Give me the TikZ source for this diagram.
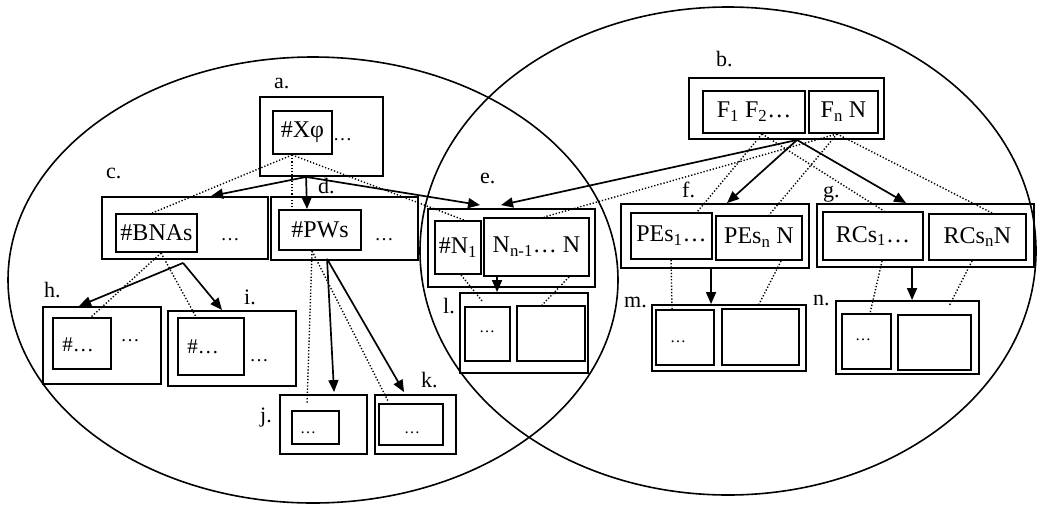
\documentclass[tikz,border=0pt]{standalone}
\usepackage{fontspec}
\setmainfont{Liberation Serif}
\usetikzlibrary{arrows.meta}
\begin{document}
\begin{tikzpicture}[x=1pt,y=-1pt,
  bx/.style={draw,line width=1.9pt,inner sep=0pt},
  txt/.style={font=\fontsize{24}{26}\selectfont},
  stxt/.style={font=\fontsize{21}{22}\selectfont,inner sep=0pt},
  dots/.style={font=\fontsize{19}{22}\selectfont,inner sep=0pt},
  sdots/.style={font=\fontsize{16}{18}\selectfont,inner sep=0pt},
  lbl/.style={font=\fontsize{22}{24}\selectfont,anchor=base west,inner sep=0pt},
  arr/.style={line width=1.7pt,-{Triangle[length=12pt,width=10pt]}},
  dot/.style={line width=1.4pt,dash pattern=on 1.3pt off 1.9pt},
  ell/.style={line width=1.6pt}]
\useasboundingbox (0,0) rectangle (1041,504);
% ellipses
\draw[ell] (313,280) ellipse [x radius=305pt, y radius=223pt];
\draw[ell] (728,251) ellipse [x radius=308pt, y radius=244pt];
% a
\node[bx,minimum width=123pt,minimum height=79pt] (a) at (321.5,136.5) {};
\node[bx,txt,minimum width=59pt,minimum height=43pt] (xphi) at (302.5,132.5) {\#Xφ};
\node[dots,anchor=west] (adots) at (333,140) {…};
\node[lbl] (la) at (274,88) {a.};
% c
\node[bx,minimum width=166pt,minimum height=62pt] (c) at (185,228) {};
\node[bx,txt,minimum width=81pt,minimum height=38pt] (bnas) at (156.5,233) {\#BNAs};
\node[dots] (cdots) at (230,240) {…};
\node[lbl] (lc) at (106,178) {c.};
% d
\node[bx,minimum width=147pt,minimum height=63pt] (d) at (344.5,228.5) {};
\node[bx,txt,minimum width=82pt,minimum height=40pt] (pws) at (320,230) {\#PWs};
\node[dots] (ddots) at (384,240) {…};
\node[lbl] (ld) at (318,193) {d.};
% e
\node[bx,minimum width=167pt,minimum height=78pt] (e) at (511.5,248) {};
\node[bx,txt,minimum width=46pt,minimum height=53pt] (n1) at (458,247.5) {\#N\textsubscript{1}};
\node[bx,txt,minimum width=105pt,minimum height=58pt] (nn) at (536.5,247) {N\textsubscript{n-1}… N};
\node[lbl] (le) at (480,183) {e.};
% l
\node[bx,minimum width=128pt,minimum height=80pt] (l) at (524,333) {};
\node[bx,minimum width=45pt,minimum height=54pt] (l1) at (487.5,334) {};
\node[bx,minimum width=68pt,minimum height=55pt] (l2) at (551,333.5) {};
\node[sdots] (ldots) at (487,332) {…};
\node[lbl] (ll) at (443,313) {l.};
% b
\node[bx,minimum width=195pt,minimum height=61pt] (b) at (786.5,108.5) {};
\node[bx,txt,minimum width=102pt,minimum height=42pt] (f12) at (754,112) {F\textsubscript{1} F\textsubscript{2}…};
\node[bx,txt,minimum width=69pt,minimum height=42pt] (fn) at (843.5,112) {F\textsubscript{n} N};
\node[lbl] (lb) at (716,66) {b.};
% f
\node[bx,minimum width=188pt,minimum height=64pt] (f) at (715,236) {};
\node[bx,txt,minimum width=81pt,minimum height=46pt] (pes1) at (671.5,236) {PEs\textsubscript{1}…};
\node[bx,txt,minimum width=86pt,minimum height=44pt] (pesn) at (759,238) {PEs\textsubscript{n} N};
\node[lbl] (lf) at (682,197) {f.};
% g
\node[bx,minimum width=217pt,minimum height=63pt] (g) at (925.5,235.5) {};
\node[bx,txt,minimum width=100pt,minimum height=48pt] (rcs1) at (873,236) {RCs\textsubscript{1}…};
\node[bx,txt,minimum width=97pt,minimum height=46pt] (rcsn) at (977.5,237) {RCs\textsubscript{n}N};
\node[lbl] (lg) at (823,197) {g.};
% m
\node[bx,minimum width=154pt,minimum height=66pt] (m) at (729,338) {};
\node[bx,minimum width=58pt,minimum height=55pt] (m1) at (685,337.5) {};
\node[bx,minimum width=77pt,minimum height=56pt] (m2) at (760.5,337) {};
\node[sdots] (mdots) at (678,342) {…};
\node[lbl] (lm) at (624,307) {m.};
% n
\node[bx,minimum width=143pt,minimum height=73pt] (n) at (907.5,337.5) {};
\node[bx,minimum width=49pt,minimum height=55pt] (n1b) at (866.5,341.5) {};
\node[bx,minimum width=73pt,minimum height=55pt] (n2) at (934.5,342.5) {};
\node[sdots] (ndots) at (863,340) {…};
\node[lbl] (lnn) at (813,305) {n.};
% h
\node[bx,minimum width=118pt,minimum height=77pt] (h) at (102,345.5) {};
\node[bx,minimum width=58pt,minimum height=51pt] (h1) at (82,343.5) {};
\node[stxt] (htxt) at (78,345) {\#…};
\node[dots] (hdots) at (130,341) {…};
\node[lbl] (lh) at (44,297) {h.};
% i
\node[bx,minimum width=128pt,minimum height=75pt] (i) at (232,348.5) {};
\node[bx,minimum width=66pt,minimum height=57pt] (i1) at (211,346.5) {};
\node[stxt] (itxt) at (203,347) {\#…};
\node[dots] (idots) at (259,361) {…};
\node[lbl] (li) at (244,304) {i.};
% j
\node[bx,minimum width=87pt,minimum height=59pt] (j) at (323.5,424.5) {};
\node[bx,minimum width=47pt,minimum height=33pt] (j1) at (315.5,427.5) {};
\node[sdots] (jdots) at (308,433) {…};
\node[lbl] (lj) at (260,422) {j.};
% k
\node[bx,minimum width=81pt,minimum height=59pt] (k) at (415.5,424.5) {};
\node[bx,minimum width=64pt,minimum height=41pt] (k1) at (411,424.5) {};
\node[sdots] (kdots) at (412,433) {…};
\node[lbl] (lk) at (421,387) {k.};
% solid arrows
\draw[arr] ([xshift=47pt]a.south west) -- ([xshift=110pt]c.north west);
\draw[arr] ([xshift=47pt]a.south west) -- ([xshift=29pt]pws.north west);
\draw[arr] ([xshift=47pt]a.south west) -- ([shift={(53,-3)}]e.north west);
\draw[arr] ([xshift=109pt]b.south west) -- ([shift={(74,-3)}]e.north west);
\draw[arr] ([xshift=109pt]b.south west) -- ([xshift=107pt]f.north west);
\draw[arr] ([xshift=109pt]b.south west) -- ([xshift=90pt]g.north west);
\draw[arr] ([shift={(82,3)}]c.south west) -- ([xshift=37pt]h.north west);
\draw[arr] ([shift={(82,3)}]c.south west) -- ([xshift=55pt]i.north west);
\draw[arr] ([shift={(57,-2)}]d.south west) -- ([shift={(55,-2)}]j.north west);
\draw[arr] ([shift={(57,-2)}]d.south west) -- ([shift={(30,-2)}]k.north west);
\draw[arr] ([xshift=14pt]nn.south west) -- ([xshift=38pt]l.north west);
\draw[arr] ([xshift=91pt]f.south west) -- ([xshift=60pt]m.north west);
\draw[arr] ([xshift=96pt]g.south west) -- ([xshift=77pt]n.north west);
% dotted links
\draw[dot] ([xshift=20pt]xphi.south west) -- ([xshift=37pt]bnas.north west);
\draw[dot] ([xshift=20pt]xphi.south west) -- ([xshift=14pt]pws.north west);
\draw[dot] ([xshift=20pt]xphi.south west) -- ([xshift=30pt]n1.north west);
\draw[dot] ([xshift=46pt]bnas.south west) -- ([xshift=39pt]h1.north west);
\draw[dot] ([xshift=46pt]bnas.south west) -- ([xshift=19pt]i1.north west);
\draw[dot] ([xshift=34pt]pws.south west) -- ([shift={(16,-7)}]j1.north west);
\draw[dot] ([xshift=34pt]pws.south west) -- ([shift={(10,-2)}]k1.north west);
\draw[dot] ([xshift=60pt]f12.south west) -- ([xshift=67pt]pes1.north west);
\draw[dot] ([xshift=60pt]f12.south west) -- ([xshift=62pt]rcs1.north west);
\draw[dot] ([xshift=29pt]fn.south west) -- ([xshift=61pt]nn.north west);
\draw[dot] ([xshift=29pt]fn.south west) -- ([xshift=54pt]pesn.north west);
\draw[dot] ([xshift=29pt]fn.south west) -- ([xshift=64pt]rcsn.north west);
\draw[dot] ([xshift=41pt]pes1.south west) -- ([xshift=17pt]m1.north west);
\draw[dot] ([xshift=66pt]pesn.south west) -- ([xshift=108pt]m.north west);
\draw[dot] ([xshift=60pt]rcs1.south west) -- ([xshift=29pt]n1b.north west);
\draw[dot] ([xshift=44pt]rcsn.south west) -- ([shift={(114,6)}]n.north west);
\draw[dot] ([xshift=27pt]n1.south west) -- ([shift={(19,-4)}]l1.north west);
\draw[dot] ([xshift=86pt]nn.south west) -- ([xshift=26pt]l2.north west);
\end{tikzpicture}
\end{document}
